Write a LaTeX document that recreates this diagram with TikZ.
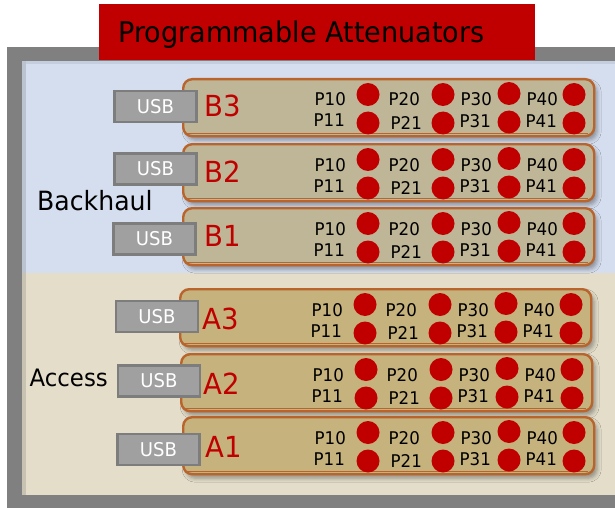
\documentclass[tikz,border=0pt]{standalone}
\usepackage{fontspec}
\setmainfont[FakeStretch=0.95]{DejaVu Sans}
\usetikzlibrary{shadows.blur}
\definecolor{tred}{RGB}{192,0,0}
\definecolor{framegray}{RGB}{128,128,128}
\definecolor{bhblue}{RGB}{213,222,239}
\definecolor{acbeige}{RGB}{227,221,202}
\definecolor{bboard}{RGB}{190,182,150}
\definecolor{aboard}{RGB}{197,178,125}
\definecolor{bedge}{RGB}{184,100,44}
\definecolor{usbfill}{RGB}{160,160,160}
\definecolor{usbedge}{RGB}{125,125,125}
\tikzset{
  boardbox/.style={draw=bedge, line width=2.4pt, rounded corners=9pt,
    minimum width=411pt, minimum height=57pt, inner sep=0pt, anchor=north west,
    blur shadow={shadow xshift=3pt, shadow yshift=-4pt, shadow blur radius=4pt, shadow opacity=35}},
  usbbox/.style={draw=usbedge, fill=usbfill, line width=2.4pt, minimum width=82pt,
    minimum height=31pt, inner sep=0pt, text=white, font=\fontsize{19}{19}\selectfont},
  blabel/.style={anchor=base west, inner sep=0pt, text=tred, font=\fontsize{29}{29}\selectfont},
  plabel/.style={anchor=base west, inner sep=0pt, text=black, font=\fontsize{17.5}{17.5}\selectfont},
  reddot/.style={circle, fill=tred, minimum size=23pt, inner sep=0pt},
  grouplabel/.style={anchor=base west, inner sep=0pt, text=black},
}
% #1 name, #2 left, #3 top, #4 fill, #5 label, #6 label x offset, #7 label baseline offset
\newcommand\attboard[7]{%
  \node[boardbox, fill=#4] (#1) at (#2,#3) {};
  \draw[bedge, line width=1pt] ({#2+5},{#3+55.5}) -- ({#2+406},{#3+55.5});
  \node[blabel] (#1lab) at ({#2+#6},{#3+#7}) {#5};
  \node[plabel] (#1p10) at ({#2+132.5},{#3+28}) {P10};
  \node[plabel] (#1p11) at ({#2+131.5},{#3+49}) {P11};
  \node[plabel] (#1p20) at ({#2+206.5},{#3+28}) {P20};
  \node[plabel] (#1p21) at ({#2+208.5},{#3+51.5}) {P21};
  \node[plabel] (#1p30) at ({#2+278.5},{#3+28}) {P30};
  \node[plabel] (#1p31) at ({#2+277.5},{#3+49.5}) {P31};
  \node[plabel] (#1p40) at ({#2+344.5},{#3+28}) {P40};
  \node[plabel] (#1p41) at ({#2+343.5},{#3+49.5}) {P41};
  \node[reddot] (#1d10) at ({#2+186},{#3+16.5}) {};
  \node[reddot] (#1d11) at ({#2+186},{#3+45}) {};
  \node[reddot] (#1d20) at ({#2+261},{#3+16.5}) {};
  \node[reddot] (#1d21) at ({#2+261},{#3+45}) {};
  \node[reddot] (#1d30) at ({#2+327},{#3+15.5}) {};
  \node[reddot] (#1d31) at ({#2+327},{#3+44}) {};
  \node[reddot] (#1d40) at ({#2+392},{#3+16.5}) {};
  \node[reddot] (#1d41) at ({#2+392},{#3+45}) {};
}
\begin{document}
\begin{tikzpicture}[x=1pt,y=-1pt]
\useasboundingbox (0,0) rectangle (615,508);
\fill[white] (0,0) rectangle (615,508);
% frame
\fill[framegray] (7,47) rectangle (615,508);
\fill[bhblue] (22,61) rectangle (615,273);
\fill[acbeige] (22,273) rectangle (615,495);
\fill[black, opacity=0.12] (22,61) rectangle (26,495);
\fill[black, opacity=0.07] (26,61) rectangle (615,64);
% title
\node[fill=tred, minimum width=436pt, minimum height=56pt, inner sep=0pt, anchor=north west] (titlebox) at (99,4) {};
\node[anchor=base west, inner sep=0pt, font=\fontsize{28.5}{28.5}\selectfont] (title) at (118,42.5) {Programmable Attenuators};
% group labels
\node[grouplabel, font=\fontsize{26.5}{26.5}\selectfont] (backhaul) at (37,210) {Backhaul};
\node[grouplabel, font=\fontsize{24}{24}\selectfont] (access) at (29.5,386) {Access};
% boards
\attboard{B3}{182}{78}{bboard}{B3}{22}{39}
\attboard{B2}{182}{143}{bboard}{B2}{22}{39}
\attboard{B1}{182}{207}{bboard}{B1}{22}{39}
\attboard{A3}{179}{288}{aboard}{A3}{23}{41.5}
\attboard{A2}{180}{353}{aboard}{A2}{23}{41.5}
\attboard{A1}{182}{416}{aboard}{A1}{23}{41.5}
% USB boxes
\node[usbbox] (usbB3) at (155.5,106.5) {USB};
\node[usbbox] (usbB2) at (155.5,169) {USB};
\node[usbbox] (usbB1) at (154.5,239) {USB};
\node[usbbox] (usbA3) at (157,316.5) {USB};
\node[usbbox] (usbA2) at (159,381) {USB};
\node[usbbox] (usbA1) at (158.5,449.5) {USB};
\end{tikzpicture}
\end{document}
